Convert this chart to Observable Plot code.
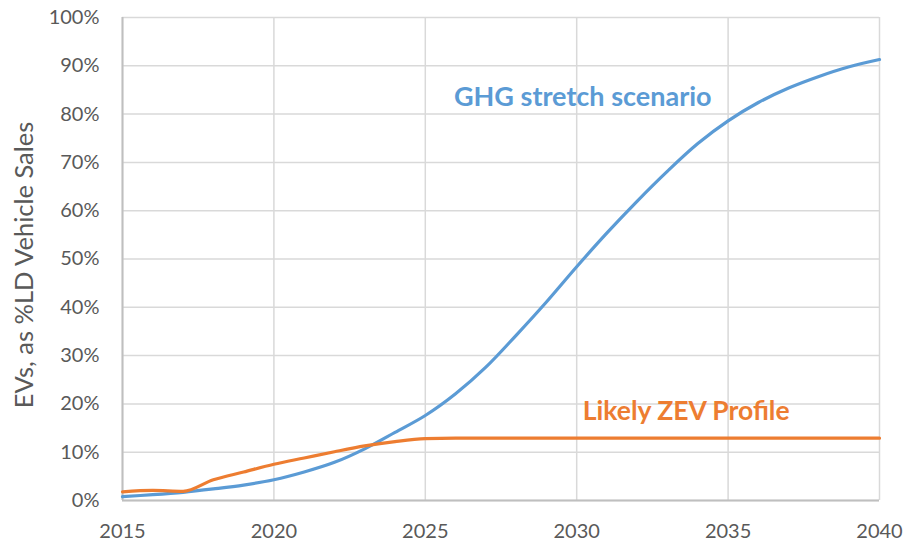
<!DOCTYPE html>
<html>
<head>
<meta charset="utf-8">
<script src="https://cdn.jsdelivr.net/npm/d3@7"></script>
<script src="https://cdn.jsdelivr.net/npm/@observablehq/plot@0.6"></script>
<style>
  html, body { margin: 0; padding: 0; background: #fff; }
</style>
</head>
<body>
<div id="chart"></div>
<script>
const years = [2015,2016,2017,2018,2019,2020,2021,2022,2023,2024,2025,2026,2027,2028,2029,2030,2031,2032,2033,2034,2035,2036,2037,2038,2039,2040];
const ghgStretch = [0.8,1.2,1.7,2.4,3.2,4.3,5.9,7.9,10.7,14.1,17.6,22.1,27.6,34.2,41.1,48.4,55.4,62.0,68.2,73.9,78.6,82.4,85.4,87.8,89.8,91.3];
const likelyZev = [1.8,2.1,1.9,4.3,5.9,7.5,8.8,10.1,11.3,12.2,12.8,12.9,12.9,12.9,12.9,12.9,12.9,12.9,12.9,12.9,12.9,12.9,12.9,12.9,12.9,12.9];
const xTicks = [2015,2020,2025,2030,2035,2040];
const yTicks = [0,10,20,30,40,50,60,70,80,90,100];
const yLabel = "EVs, as %LD Vehicle Sales";
const seriesLabels = ["GHG stretch scenario", "Likely ZEV Profile"];

const rows = years.flatMap((yr, i) => [
  {year: yr, value: ghgStretch[i], series: seriesLabels[0]},
  {year: yr, value: likelyZev[i], series: seriesLabels[1]}
]);

const blue = "#5b9bd5", orange = "#ed7d31";

const chart = Plot.plot({
  width: 908,
  height: 548,
  marginLeft: 122,
  marginRight: 29,
  marginTop: 17,
  marginBottom: 48,
  style: {fontFamily: "Lato", fontSize: "20px", color: "#595959", background: "#fff"},
  x: {domain: [2015, 2040], ticks: xTicks, tickFormat: d => String(d)},
  y: {domain: [0, 100], ticks: yTicks, tickFormat: d => d + "%"},
  marks: [
    Plot.gridX(xTicks, {stroke: "#d9d9d9", strokeOpacity: 1, strokeWidth: 1.5}),
    Plot.gridY(yTicks, {stroke: "#d9d9d9", strokeOpacity: 1, strokeWidth: 1.5}),
    Plot.ruleX([2015], {stroke: "#bfbfbf", strokeWidth: 2}),
    Plot.ruleY([0], {stroke: "#bfbfbf", strokeWidth: 2}),
    Plot.line(rows.filter(d => d.series === seriesLabels[0]), {x: "year", y: "value", stroke: blue, strokeWidth: 3.2, curve: "catmull-rom"}),
    Plot.line(rows.filter(d => d.series === seriesLabels[1]), {x: "year", y: "value", stroke: orange, strokeWidth: 3.2, curve: "monotone-x"}),
    Plot.text([seriesLabels[0]], {x: 2030.2, y: 83.4, text: d => d, fill: blue, fontWeight: "bold", fontSize: 27, textAnchor: "middle"}),
    Plot.text([seriesLabels[1]], {x: 2030.2, y: 18.4, text: d => d, fill: orange, fontWeight: "bold", fontSize: 26.5, textAnchor: "start"}),
    Plot.axisX(xTicks, {tickSize: 0, tickPadding: 23, label: null, fill: "#595959", fontSize: 20, tickFormat: d => String(d)}),
    Plot.axisY(yTicks, {tickSize: 0, tickPadding: 23, label: null, fill: "#595959", fontSize: 20, tickFormat: d => d + "%"}),
    Plot.text([yLabel], {frameAnchor: "left", dx: -98, dy: 6, rotate: -90, textAnchor: "middle", text: d => d, fill: "#595959", fontSize: 25.5})
  ]
});
document.getElementById("chart").appendChild(chart);
</script>
</body>
</html>
